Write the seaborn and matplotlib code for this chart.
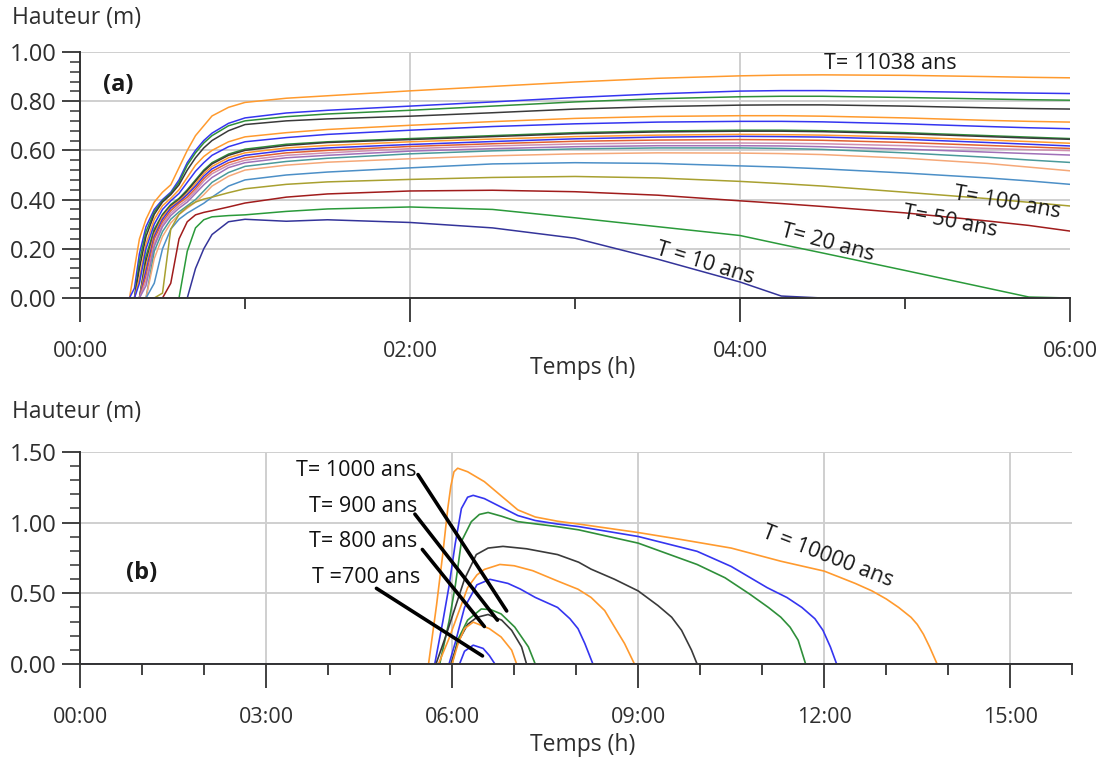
import matplotlib
matplotlib.use("Agg")
import matplotlib.pyplot as plt
from matplotlib.ticker import FuncFormatter, MultipleLocator
import pandas as pd
import seaborn as sns

# ---- panel (a) : water height vs time, 20 return periods ----
t_a = [0.00, 0.30, 0.33, 0.36, 0.40, 0.45, 0.50, 0.55, 0.60, 0.65, 0.70, 0.75, 0.80, 0.90,
       1.00, 1.25, 1.50, 2.00, 2.50, 3.00, 3.50, 4.00, 4.25, 4.50, 5.00, 5.50, 5.75, 6.00]

a01 = [0, 0, 0.12, 0.24, 0.32, 0.39, 0.43, 0.46, 0.53, 0.60, 0.66, 0.70, 0.74, 0.775, 0.795, 0.812, 0.822, 0.842, 0.860, 0.878, 0.893, 0.903, 0.906, 0.907, 0.905, 0.900, 0.897, 0.895]
a02 = [0, 0, 0.04, 0.18, 0.29, 0.36, 0.40, 0.43, 0.48, 0.55, 0.60, 0.64, 0.67, 0.71, 0.732, 0.752, 0.763, 0.780, 0.797, 0.815, 0.830, 0.841, 0.843, 0.843, 0.840, 0.835, 0.833, 0.831]
a03 = [0, 0, 0, 0.15, 0.27, 0.35, 0.395, 0.425, 0.47, 0.54, 0.59, 0.63, 0.66, 0.70, 0.72, 0.737, 0.748, 0.763, 0.780, 0.797, 0.810, 0.818, 0.820, 0.820, 0.815, 0.809, 0.806, 0.804]
a04 = [0, 0, 0, 0.12, 0.25, 0.34, 0.39, 0.42, 0.46, 0.52, 0.57, 0.61, 0.64, 0.68, 0.705, 0.720, 0.728, 0.739, 0.753, 0.768, 0.778, 0.784, 0.785, 0.785, 0.780, 0.773, 0.770, 0.768]
a05 = [0, 0, 0, 0.08, 0.22, 0.32, 0.375, 0.405, 0.44, 0.49, 0.54, 0.575, 0.60, 0.635, 0.655, 0.672, 0.685, 0.702, 0.717, 0.730, 0.738, 0.741, 0.741, 0.739, 0.732, 0.722, 0.718, 0.715]
a06 = [0, 0, 0, 0.06, 0.20, 0.30, 0.36, 0.395, 0.425, 0.47, 0.515, 0.55, 0.58, 0.615, 0.635, 0.652, 0.665, 0.682, 0.697, 0.708, 0.715, 0.718, 0.718, 0.716, 0.708, 0.697, 0.692, 0.688]
a07 = [0, 0, 0, 0, 0.17, 0.28, 0.34, 0.38, 0.405, 0.44, 0.48, 0.52, 0.55, 0.585, 0.605, 0.625, 0.635, 0.648, 0.660, 0.672, 0.679, 0.682, 0.682, 0.680, 0.672, 0.660, 0.654, 0.648]
a08 = [0, 0, 0, 0, 0.15, 0.27, 0.335, 0.375, 0.40, 0.435, 0.475, 0.515, 0.545, 0.58, 0.60, 0.62, 0.632, 0.644, 0.656, 0.668, 0.675, 0.678, 0.678, 0.676, 0.668, 0.656, 0.650, 0.645]
a09 = [0, 0, 0, 0, 0.13, 0.26, 0.33, 0.37, 0.395, 0.425, 0.465, 0.505, 0.535, 0.57, 0.59, 0.61, 0.62, 0.635, 0.646, 0.656, 0.662, 0.665, 0.664, 0.662, 0.654, 0.642, 0.636, 0.629]
a10 = [0, 0, 0, 0, 0.11, 0.25, 0.32, 0.365, 0.39, 0.42, 0.455, 0.495, 0.525, 0.56, 0.58, 0.60, 0.61, 0.624, 0.636, 0.647, 0.654, 0.657, 0.656, 0.654, 0.645, 0.632, 0.625, 0.618]
a11 = [0, 0, 0, 0, 0.09, 0.24, 0.31, 0.355, 0.385, 0.41, 0.445, 0.485, 0.515, 0.55, 0.57, 0.59, 0.60, 0.616, 0.627, 0.637, 0.642, 0.644, 0.643, 0.641, 0.632, 0.620, 0.614, 0.608]
a12 = [0, 0, 0, 0, 0.07, 0.22, 0.30, 0.345, 0.375, 0.40, 0.435, 0.475, 0.505, 0.54, 0.56, 0.58, 0.59, 0.607, 0.618, 0.626, 0.630, 0.630, 0.629, 0.627, 0.619, 0.608, 0.603, 0.599]
a13 = [0, 0, 0, 0, 0.05, 0.21, 0.29, 0.335, 0.365, 0.39, 0.425, 0.46, 0.49, 0.53, 0.55, 0.57, 0.58, 0.597, 0.607, 0.615, 0.619, 0.619, 0.618, 0.615, 0.605, 0.593, 0.587, 0.581]
a14 = [0, 0, 0, 0, 0, 0.19, 0.27, 0.32, 0.35, 0.375, 0.40, 0.435, 0.47, 0.51, 0.535, 0.555, 0.568, 0.586, 0.598, 0.606, 0.610, 0.610, 0.608, 0.604, 0.590, 0.572, 0.561, 0.551]
a15 = [0, 0, 0, 0, 0, 0.16, 0.25, 0.305, 0.34, 0.365, 0.39, 0.42, 0.455, 0.495, 0.52, 0.54, 0.552, 0.566, 0.578, 0.586, 0.590, 0.589, 0.587, 0.583, 0.568, 0.547, 0.532, 0.517]
a16 = [0, 0, 0, 0, 0, 0.06, 0.20, 0.28, 0.32, 0.345, 0.365, 0.385, 0.41, 0.455, 0.48, 0.50, 0.512, 0.529, 0.545, 0.550, 0.547, 0.537, 0.532, 0.525, 0.508, 0.488, 0.476, 0.462]
a17 = [0, 0, 0, 0, 0, 0, 0.02, 0.28, 0.34, 0.37, 0.39, 0.402, 0.41, 0.428, 0.444, 0.462, 0.472, 0.482, 0.490, 0.494, 0.488, 0.474, 0.465, 0.455, 0.430, 0.404, 0.389, 0.374]
a18 = [0, 0, 0, 0, 0, 0, 0, 0.06, 0.24, 0.31, 0.338, 0.348, 0.355, 0.37, 0.386, 0.41, 0.423, 0.435, 0.438, 0.432, 0.418, 0.395, 0.384, 0.372, 0.346, 0.313, 0.295, 0.272]
a19 = [0, 0, 0, 0, 0, 0, 0, 0, 0, 0.19, 0.285, 0.318, 0.33, 0.335, 0.338, 0.352, 0.362, 0.370, 0.360, 0.326, 0.290, 0.254, 0.218, 0.183, 0.112, 0.040, 0.004, 0]
a20 = [0, 0, 0, 0, 0, 0, 0, 0, 0, 0, 0.12, 0.20, 0.258, 0.31, 0.32, 0.312, 0.318, 0.307, 0.285, 0.243, 0.158, 0.065, 0.008, 0, 0, 0, 0, 0]

heights_a = [a01, a02, a03, a04, a05, a06, a07, a08, a09, a10,
             a11, a12, a13, a14, a15, a16, a17, a18, a19, a20]
colors_a = ["#ff9a2e", "#3535f0", "#2f8f3a", "#3a3a3a", "#ff9a2e", "#3535f0", "#2f8f3a", "#3a3a3a",
            "#ff9a2e", "#3535f0", "#e06030", "#d08fb0", "#a070b8", "#4a9a9a", "#f5a878",
            "#4c8fc7", "#a8a030", "#a01c1c", "#2a9a3a", "#34349a"]

# ---- panel (b) : 10 flood waves ----
b01_t = [0, 5.62, 5.75, 5.85, 5.93, 5.98, 6.03, 6.09, 6.25, 6.52, 6.79, 7.06, 7.34, 7.7, 8.04, 9.0, 9.7, 10.5, 11.3, 12.0, 12.5, 12.77, 13.0, 13.2, 13.4, 13.5, 13.6, 13.7, 13.82, 16]
b01_h = [0, 0, 0.42, 0.78, 1.1, 1.26, 1.36, 1.385, 1.36, 1.29, 1.19, 1.09, 1.04, 1.01, 0.99, 0.93, 0.88, 0.82, 0.727, 0.657, 0.57, 0.517, 0.46, 0.40, 0.33, 0.28, 0.21, 0.12, 0, 0]
b02_t = [0, 5.72, 5.85, 5.95, 6.05, 6.15, 6.25, 6.34, 6.52, 6.79, 7.06, 7.34, 7.7, 8.04, 9.0, 9.95, 10.5, 11.08, 11.4, 11.64, 11.85, 11.98, 12.1, 12.2, 16]
b02_h = [0, 0, 0.3, 0.55, 0.85, 1.10, 1.18, 1.193, 1.17, 1.11, 1.05, 1.015, 0.99, 0.972, 0.902, 0.797, 0.69, 0.54, 0.47, 0.40, 0.32, 0.238, 0.12, 0, 0]
b03_t = [0, 5.8, 5.95, 6.05, 6.15, 6.31, 6.44, 6.58, 6.8, 7.06, 7.69, 8.04, 9.0, 9.95, 10.4, 10.8, 11.1, 11.3, 11.45, 11.58, 11.7, 16]
b03_h = [0, 0, 0.3, 0.55, 0.867, 1.007, 1.058, 1.072, 1.045, 1.007, 0.972, 0.949, 0.855, 0.704, 0.61, 0.494, 0.40, 0.331, 0.26, 0.168, 0, 0]
b04_t = [0, 5.74, 5.9, 6.05, 6.2, 6.39, 6.58, 6.82, 7.2, 7.7, 8.04, 8.24, 8.62, 9.0, 9.32, 9.54, 9.70, 9.86, 9.95, 16]
b04_h = [0, 0, 0.2, 0.4, 0.6, 0.774, 0.82, 0.832, 0.815, 0.774, 0.72, 0.671, 0.599, 0.517, 0.413, 0.331, 0.238, 0.098, 0, 0]
b05_t = [0, 5.78, 5.95, 6.1, 6.25, 6.4, 6.52, 6.77, 7.0, 7.3, 7.7, 8.03, 8.24, 8.46, 8.62, 8.78, 8.94, 16]
b05_h = [0, 0, 0.18, 0.36, 0.54, 0.63, 0.669, 0.704, 0.695, 0.66, 0.587, 0.529, 0.471, 0.378, 0.261, 0.145, 0, 0]
b06_t = [0, 5.95, 6.05, 6.2, 6.4, 6.61, 6.9, 7.1, 7.34, 7.7, 7.9, 8.03, 8.14, 8.27, 16]
b06_h = [0, 0, 0.15, 0.40, 0.56, 0.599, 0.57, 0.53, 0.471, 0.40, 0.32, 0.25, 0.145, 0, 0]
b07_t = [0, 6.0, 6.09, 6.25, 6.47, 6.62, 6.79, 7.01, 7.23, 7.34, 16]
b07_h = [0, 0, 0.17, 0.31, 0.389, 0.385, 0.354, 0.261, 0.121, 0, 0]
b08_t = [0, 5.98, 6.1, 6.25, 6.4, 6.58, 6.8, 6.96, 7.12, 7.2, 16]
b08_h = [0, 0, 0.16, 0.28, 0.33, 0.35, 0.31, 0.238, 0.121, 0, 0]
b09_t = [0, 6.0, 6.1, 6.2, 6.34, 6.6, 6.79, 6.96, 7.04, 16]
b09_h = [0, 0, 0.15, 0.25, 0.296, 0.25, 0.191, 0.098, 0, 0]
b10_t = [0, 6.12, 6.2, 6.34, 6.5, 6.6, 6.69, 16]
b10_h = [0, 0, 0.09, 0.133, 0.11, 0.06, 0, 0]

times_b = [b01_t, b02_t, b03_t, b04_t, b05_t, b06_t, b07_t, b08_t, b09_t, b10_t]
heights_b = [b01_h, b02_h, b03_h, b04_h, b05_h, b06_h, b07_h, b08_h, b09_h, b10_h]
colors_b = ["#ff9a2e", "#3535f0", "#2f8f3a", "#3a3a3a", "#ff9a2e",
            "#3535f0", "#2f8f3a", "#3a3a3a", "#ff9a2e", "#3535f0"]

# labels of panel (b), with leader lines (label pos, line start, line end)
lab_b = ["T= 1000 ans", "T= 900 ans", "T= 800 ans", "T =700 ans"]
lab_b_xy = [(5.43, 1.37), (5.43, 1.115), (5.43, 0.865), (5.48, 0.615)]
lead_start = [(5.45, 1.34), (5.40, 1.06), (5.52, 0.81), (4.78, 0.535)]
lead_end = [(6.88, 0.375), (6.73, 0.31), (6.52, 0.265), (6.49, 0.057)]

sns.set_theme(style="white")
plt.rcParams["font.family"] = ["Open Sans", "DejaVu Sans"]

TXT = "#2e2e2e"
fig = plt.figure(figsize=(11.05, 7.61), dpi=100)
ax_a = fig.add_axes([0.0724, 0.6084, 0.896, 0.3233])
ax_b = fig.add_axes([0.0724, 0.1275, 0.898, 0.2786])

# long-format frames so seaborn does the drawing
df_a = pd.concat([pd.DataFrame({"temps": t_a, "hauteur": h, "courbe": f"a{i:02d}"})
                  for i, h in enumerate(heights_a)])
pal_a = {f"a{i:02d}": c for i, c in enumerate(colors_a)}
df_b = pd.concat([pd.DataFrame({"temps": t, "hauteur": h, "courbe": f"b{i:02d}"})
                  for i, (t, h) in enumerate(zip(times_b, heights_b))])
pal_b = {f"b{i:02d}": c for i, c in enumerate(colors_b)}

sns.lineplot(data=df_a, x="temps", y="hauteur", hue="courbe", palette=pal_a,
             estimator=None, legend=False, lw=1.1, ax=ax_a)
sns.lineplot(data=df_b, x="temps", y="hauteur", hue="courbe", palette=pal_b,
             estimator=None, legend=False, lw=1.2, ax=ax_b)

hfmt = FuncFormatter(lambda v, p: f"{int(round(v)):02d}:00")


def style_axes(ax, xmax, xmaj, ymax, ymaj, ymin_step):
    ax.set_xlim(0, xmax)
    ax.set_ylim(0, ymax)
    ax.xaxis.set_major_locator(MultipleLocator(xmaj))
    ax.xaxis.set_minor_locator(MultipleLocator(1))
    ax.xaxis.set_major_formatter(hfmt)
    ax.yaxis.set_major_locator(MultipleLocator(ymaj))
    ax.yaxis.set_minor_locator(MultipleLocator(ymin_step))
    ax.yaxis.set_major_formatter(FuncFormatter(lambda v, p: f"{v:.2f}"))
    ax.set_axisbelow(True)
    ax.grid(True, which="major", color="#cfcfcf", lw=1.4)
    for s in ["top", "right"]:
        ax.spines[s].set_visible(False)
    for s in ["left", "bottom"]:
        ax.spines[s].set_color("#333333")
        ax.spines[s].set_linewidth(1.4)
    ax.tick_params(axis="x", which="major", length=17, width=1.3, color="#333333",
                   direction="out", pad=14, labelsize=15.5, labelcolor=TXT, bottom=True)
    ax.tick_params(axis="x", which="minor", length=8, width=1.3, color="#333333",
                   direction="out", bottom=True)
    ax.tick_params(axis="y", which="major", length=13, width=1.3, color="#333333",
                   direction="out", pad=4, labelsize=17, labelcolor=TXT, left=True)
    ax.tick_params(axis="y", which="minor", length=7, width=1.1, color="#333333",
                   direction="out", left=True)
    ax.set_xlabel("Temps (h)", fontsize=16.5, color=TXT, va="center")
    ax.set_ylabel("Hauteur (m)", fontsize=16.5, color=TXT, rotation=0, ha="left", va="center")


style_axes(ax_a, 6, 2, 1.0, 0.2, 0.04)
style_axes(ax_b, 16, 3, 1.5, 0.5, 0.1)
ax_a.xaxis.set_label_coords(0.508, -0.285)
ax_a.yaxis.set_label_coords(-0.0687, 1.138)
ax_b.xaxis.set_label_coords(0.507, -0.382)
ax_b.yaxis.set_label_coords(-0.0685, 1.189)
fig.canvas.draw()
# no vertical gridline on the right edge of panel (a)
for tk in ax_a.xaxis.get_major_ticks():
    if tk.get_loc() >= 6:
        tk.gridline.set_visible(False)

# annotations panel (a)
ax_a.text(0.23, 0.866, "(a)", fontsize=17, fontweight="bold", color="#1a1a1a", ha="center", va="center")
ax_a.text(4.91, 0.955, "T= 11038 ans", fontsize=15.5, color="#1a1a1a", ha="center", va="center")
ax_a.text(3.79, 0.142, "T = 10 ans", fontsize=15.5, color="#1a1a1a", ha="center", va="center", rotation=-17)
ax_a.text(4.53, 0.224, "T= 20 ans", fontsize=15.5, color="#1a1a1a", ha="center", va="center", rotation=-15)
ax_a.text(5.27, 0.309, "T= 50 ans", fontsize=15.5, color="#1a1a1a", ha="center", va="center", rotation=-11)
ax_a.text(5.62, 0.386, "T= 100 ans", fontsize=15.5, color="#1a1a1a", ha="center", va="center", rotation=-10)

# annotations panel (b)
ax_b.text(1.0, 0.645, "(b)", fontsize=17, fontweight="bold", color="#1a1a1a", ha="center", va="center")
ax_b.text(12.05, 0.757, "T = 10000 ans", fontsize=15.5, color="#1a1a1a", ha="center", va="center", rotation=-21)
for lab, (tx, ty), p0, p1 in zip(lab_b, lab_b_xy, lead_start, lead_end):
    ax_b.text(tx, ty, lab, fontsize=15.5, color="#111111", ha="right", va="center")
    ax_b.annotate("", xy=p1, xytext=p0,
                  arrowprops=dict(arrowstyle="-", lw=2.6, color="black", shrinkA=0, shrinkB=0))

fig.savefig("out.png", dpi=100)
